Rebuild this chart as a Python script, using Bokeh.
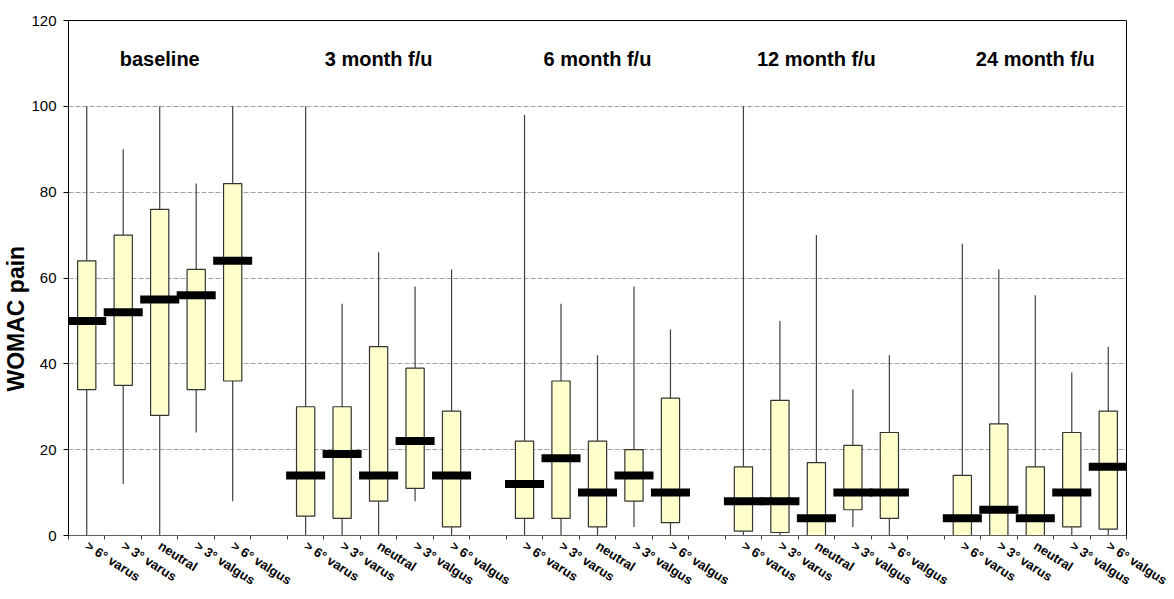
from bokeh.plotting import figure
from bokeh.models import ColumnDataSource, FixedTicker, Title, Range1d
from bokeh.core.properties import value
from bokeh.embed import file_html
from bokeh.resources import INLINE

groups = ["baseline", "3 month f/u", "6 month f/u", "12 month f/u", "24 month f/u"]
categories = ["> 6° varus", "> 3° varus", "neutral", "> 3° valgus", "> 6° valgus"]

whisker_low = [
    [0, 12, 0, 24, 8],
    [0, 0, 0, 8, 0],
    [0, 0, 0, 2, 0],
    [0, 0, 0, 2, 0],
    [0, 0, 0, 0, 0],
]
whisker_high = [
    [100, 90, 100, 82, 100],
    [100, 54, 66, 58, 62],
    [98, 54, 42, 58, 48],
    [100, 50, 70, 34, 42],
    [68, 62, 56, 38, 44],
]
box_low = [
    [34, 35, 28, 34, 36],
    [4.5, 4, 8, 11, 2],
    [4, 4, 2, 8, 3],
    [1, 0.7, 0, 6, 4],
    [0, 0, 0, 2, 1.5],
]
box_high = [
    [64, 70, 76, 62, 82],
    [30, 30, 44, 39, 29],
    [22, 36, 22, 20, 32],
    [16, 31.5, 17, 21, 24],
    [14, 26, 16, 24, 29],
]
medians = [
    [50, 52, 55, 56, 64],
    [14, 19, 14, 22, 14],
    [12, 18, 10, 14, 10],
    [8, 8, 4, 10, 10],
    [4, 6, 4, 10, 16],
]
y_ticks = [0, 20, 40, 60, 80, 100, 120]

slots_per_group = len(categories) + 1
n_slots = len(groups) * slots_per_group - 1

xs, lo, hi, q1, q3, med, labels = [], [], [], [], [], [], {}
for g in range(len(groups)):
    for i, c in enumerate(categories):
        x = g * slots_per_group + i + 0.5
        xs.append(x)
        lo.append(whisker_low[g][i]); hi.append(whisker_high[g][i])
        q1.append(box_low[g][i]); q3.append(box_high[g][i])
        med.append(medians[g][i])
        labels[x] = c
src = ColumnDataSource(dict(x=xs, lo=lo, hi=hi, q1=q1, q3=q3, med=med))
group_x = [g * slots_per_group + len(categories) / 2 for g in range(len(groups))]

FONT = "Liberation Sans"
p = figure(width=1170, height=597, x_range=Range1d(0, n_slots), y_range=Range1d(0, 120),
           output_backend="svg", toolbar_location=None, title=None,
           min_border_left=66, min_border_right=44, min_border_top=20, min_border_bottom=61)
p.outline_line_color = "black"
p.outline_line_width = 1

p.segment(x0="x", y0="lo", x1="x", y1="hi", source=src, line_color="#404040", line_width=1.2)
p.vbar(x="x", width=0.5, bottom="q1", top="q3", source=src,
       fill_color="#FFFFCC", line_color="#333333", line_width=1.2)
p.rect(x="x", y="med", width=1.07, height=8, height_units="screen", source=src,
       fill_color="black", line_color=None)

p.text(x=group_x, y=[111] * len(groups), text=groups, text_align="center", text_baseline="middle",
       text_font=value(FONT), text_font_size="20px", text_font_style="bold", text_color="black")

p.xgrid.visible = False
p.ygrid.grid_line_color = "#a0a0a0"
p.ygrid.grid_line_dash = "5 2"

p.yaxis.ticker = FixedTicker(ticks=y_ticks, minor_ticks=[])
p.yaxis.axis_line_color = "black"
p.yaxis.major_tick_out = 5
p.yaxis.major_tick_in = 0
p.yaxis.major_label_standoff = 7
p.yaxis.major_label_text_font = FONT
p.yaxis.major_label_text_font_size = "15px"
p.yaxis.major_label_text_color = "black"

p.xaxis.ticker = FixedTicker(ticks=xs, minor_ticks=list(range(n_slots + 1)))
p.xaxis.major_label_overrides = labels
p.xaxis.major_tick_line_color = None
p.xaxis.minor_tick_line_color = "#404040"
p.xaxis.minor_tick_out = 4
p.xaxis.minor_tick_in = 0
p.xaxis.axis_line_color = "#606060"
p.xaxis.major_label_orientation = -0.57
p.xaxis.major_label_text_font = FONT
p.xaxis.major_label_text_font_size = "13px"
p.xaxis.major_label_text_font_style = "bold"
p.xaxis.major_label_text_color = "black"
p.xaxis.major_label_standoff = 3

p.add_layout(Title(text="WOMAC pain", align="left", text_font=FONT, text_font_size="23px",
                   text_font_style="bold", text_color="black", standoff=0, offset=144), "left")

open("out.html", "w").write(file_html(p, INLINE))
